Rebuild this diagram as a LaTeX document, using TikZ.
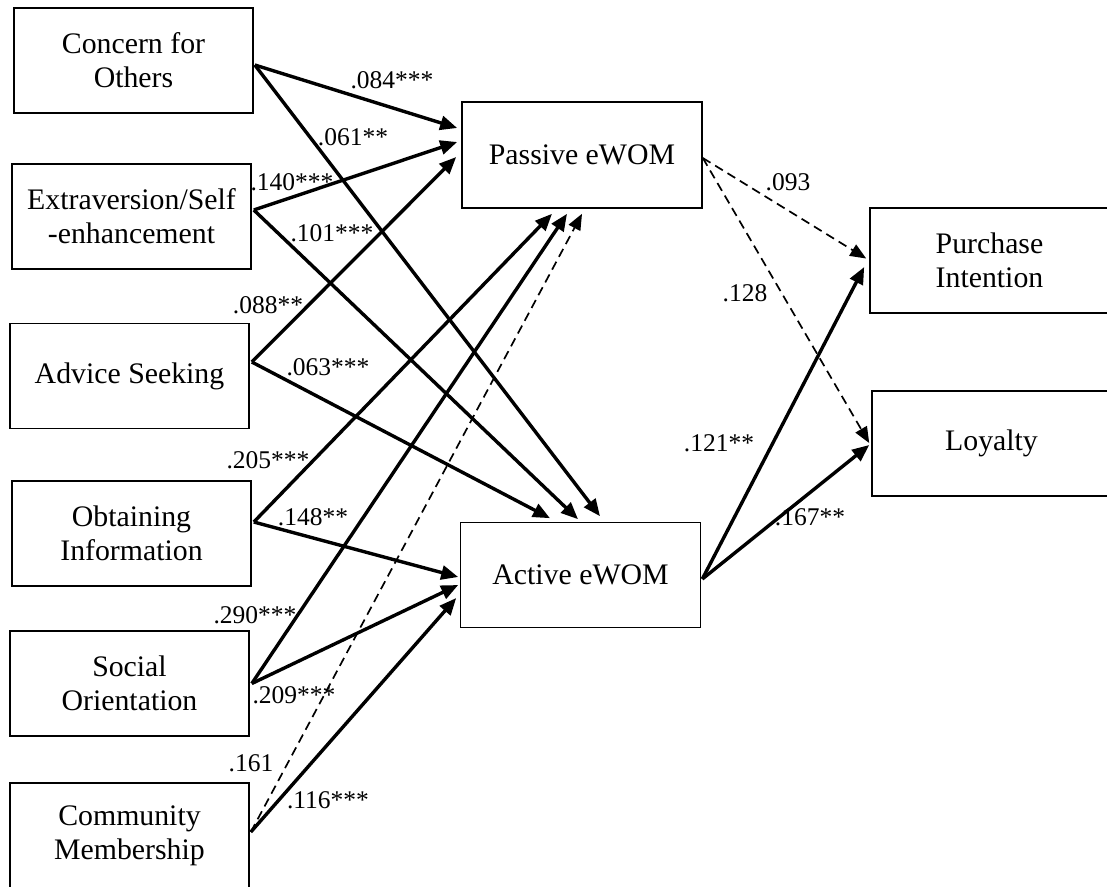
\documentclass[tikz,border=0pt]{standalone}
\usepackage{fontspec}
\setmainfont{Liberation Serif}
\usetikzlibrary{arrows.meta,calc}
\begin{document}
\begin{tikzpicture}[x=1pt,y=-1pt,
  box/.style={draw,line width=1.6pt,minimum width=239pt,minimum height=105pt,align=center,inner sep=0pt,font=\fontsize{29.8}{34}\selectfont},
  lab/.style={inner sep=0pt,font=\fontsize{25.5}{29}\selectfont},
  sol/.style={line width=3.4pt,-{Triangle[length=17pt,width=14pt]}},
  dsh/.style={line width=1.7pt,dash pattern=on 9pt off 5.5pt,-{Triangle[length=16pt,width=13pt]}}]
\useasboundingbox (0,0) rectangle (1107,886);
% nodes
\node[box] (co) at (133.5,60.5) {Concern for\\Others};
\node[box] (ex) at (131.5,216.5) {Extraversion/Self\\-enhancement};
\node[box] (ad) at (129.5,376) {Advice Seeking};
\node[box] (ob) at (131.5,533.5) {Obtaining\\Information};
\node[box] (so) at (129.5,683.5) {Social\\Orientation};
\node[box] (cm) at (129.5,835.5) {Community\\Membership};
\node[box,minimum width=240pt,minimum height=106pt] (pa) at (582,155) {Passive eWOM};
\node[box,minimum width=240pt] (ac) at (580.5,575) {Active eWOM};
\node[box] (pi) at (989.5,260.5) {Purchase\\Intention};
\node[box] (lo) at (991.5,443.5) {Loyalty};
% connectors to Passive eWOM
\draw[sol] ($(co.east)+(1,4.5)$) -- ($(pa.west)+(-4,-27)$);
\draw[sol] ($(ex.east)+(2,-6.5)$) -- ($(pa.west)+(-4,-13)$);
\draw[sol] ($(ad.east)+(2,-14)$) -- ($(pa.west)+(-5,2)$);
\draw[sol] ($(ob.east)+(2,-11.5)$) -- ($(pa.south)+(-30,5)$);
\draw[sol] ($(so.east)+(2,0)$) -- ($(pa.south)+(-15,5)$);
\draw[dsh] ($(cm.east)+(1,-3.5)$) -- ($(pa.south)+(0,5)$);
% connectors to Active eWOM
\draw[sol] ($(co.east)+(1,4.5)$) -- ($(ac.north)+(19.5,-5.5)$);
\draw[sol] ($(ex.east)+(2,-6.5)$) -- ($(ac.north)+(-2.5,-2.5)$);
\draw[sol] ($(ad.east)+(2,-14)$) -- ($(ac.north)+(-30.5,-3.5)$);
\draw[sol] ($(ob.east)+(2,-11.5)$) -- ($(ac.west)+(-1.5,2)$);
\draw[sol] ($(so.east)+(2,0)$) -- ($(ac.west)+(-1.5,10)$);
\draw[sol] ($(cm.east)+(1,-3.5)$) -- ($(ac.west)+(-3.5,23)$);
% outcomes
\draw[dsh] ($(pa.east)+(0,3)$) -- ($(pi.west)+(-3,-2)$);
\draw[dsh] ($(pa.east)+(0,3)$) -- ($(lo.west)+(-2,-0.5)$);
\draw[sol] ($(ac.east)+(1,4)$) -- ($(pi.west)+(-5,6.5)$);
\draw[sol] ($(ac.east)+(1,4)$) -- ($(lo.west)+(-2,1.5)$);
% labels
\node[lab] (l1) at (392,80) {.084***};
\node[lab] (l2) at (353,137) {.061**};
\node[lab] (l3) at (292,182) {.140***};
\node[lab] (l4) at (332,233) {.101***};
\node[lab] (l5) at (268,305) {.088**};
\node[lab] (l6) at (328,367) {.063***};
\node[lab] (l7) at (268,460) {.205***};
\node[lab] (l8) at (313,517) {.148**};
\node[lab] (l9) at (255,615) {.290***};
\node[lab] (l10) at (294,695) {.209***};
\node[lab] (l11) at (251,763) {.161};
\node[lab] (l12) at (328,800) {.116***};
\node[lab] (l13) at (788,182) {.093};
\node[lab] (l14) at (745,293) {.128};
\node[lab] (l15) at (719,443) {.121**};
\node[lab] (l16) at (810,517) {.167**};
\end{tikzpicture}
\end{document}
